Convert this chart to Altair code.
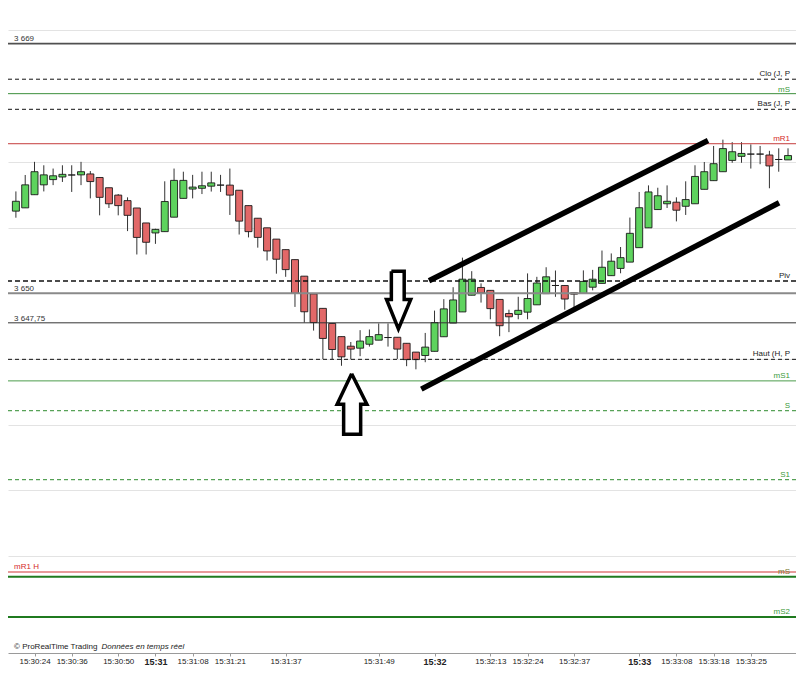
import altair as alt
import pandas as pd

# ---------------- data ----------------
opens = [3656.25, 3656.5, 3657.5, 3658.25, 3658.65, 3658.85, 3659.0, 3659.01, 3659.08, 3658.81,
         3658.03, 3657.47, 3657.05, 3656.49, 3655.35, 3654.59, 3654.69, 3655.79, 3657.22, 3657.93,
         3657.99, 3658.15, 3658.23, 3658.23, 3657.84, 3656.67, 3655.71, 3654.98, 3654.12, 3653.32,
         3652.56, 3651.3, 3649.95, 3648.85, 3647.7, 3646.7, 3645.97, 3645.82, 3646.12, 3646.43,
         3646.63, 3646.65, 3646.19, 3645.52, 3645.26, 3645.58, 3646.69, 3647.73, 3648.58, 3649.85,
         3650.44, 3650.22, 3649.53, 3648.46, 3648.39, 3648.56, 3649.12, 3649.97, 3650.59, 3650.59,
         3650.04, 3649.99, 3650.46, 3650.75, 3651.34, 3651.89, 3652.37, 3653.47, 3654.98, 3656.37,
         3656.81, 3656.93, 3656.62, 3656.81, 3657.91, 3658.57, 3659.25, 3660.11, 3660.42, 3660.59,
         3660.59, 3660.52, 3660.18, 3660.15]
highs = [3657.75, 3659.0, 3660.0, 3659.74, 3659.49, 3659.74, 3659.74, 3660.0, 3659.3, 3658.81,
         3658.03, 3657.55, 3657.3, 3656.49, 3655.35, 3654.91, 3658.52, 3659.49, 3659.25, 3659.01,
         3659.25, 3659.25, 3659.01, 3659.49, 3657.84, 3656.67, 3655.71, 3654.98, 3654.12, 3653.32,
         3652.56, 3651.3, 3649.95, 3648.85, 3647.7, 3646.7, 3646.29, 3647.19, 3647.24, 3647.7,
         3647.7, 3646.65, 3646.19, 3645.52, 3646.98, 3648.68, 3649.55, 3650.46, 3652.71, 3651.68,
         3650.75, 3650.22, 3649.53, 3648.75, 3649.73, 3651.51, 3651.25, 3651.98, 3651.73, 3650.59,
         3650.04, 3651.74, 3651.78, 3653.25, 3653.03, 3653.52, 3655.76, 3657.71, 3658.21, 3658.03,
         3658.21, 3657.3, 3658.52, 3659.74, 3659.99, 3661.21, 3661.69, 3661.5, 3661.5, 3661.33,
         3661.21, 3660.84, 3661.03, 3661.03]
lows = [3655.75, 3656.5, 3657.5, 3657.75, 3658.23, 3658.47, 3657.71, 3658.23, 3657.22, 3655.93,
        3656.49, 3655.93, 3654.73, 3652.95, 3652.95, 3653.76, 3654.69, 3655.79, 3657.22, 3657.22,
        3657.55, 3657.74, 3657.71, 3655.96, 3654.47, 3654.25, 3653.47, 3652.49, 3651.49, 3651.25,
        3648.96, 3647.77, 3647.16, 3644.99, 3644.99, 3644.48, 3644.97, 3645.21, 3645.94, 3646.43,
        3645.94, 3645.0, 3644.45, 3644.21, 3644.75, 3645.58, 3646.69, 3647.73, 3648.58, 3649.85,
        3649.29, 3648.02, 3646.73, 3647.04, 3648.02, 3648.02, 3649.12, 3649.97, 3649.73, 3648.75,
        3648.87, 3649.99, 3650.22, 3650.75, 3651.34, 3651.52, 3652.37, 3653.47, 3654.98, 3656.37,
        3656.49, 3655.47, 3655.96, 3656.81, 3657.91, 3658.57, 3659.25, 3659.93, 3659.93, 3659.49,
        3659.82, 3657.99, 3659.25, 3660.15]
closes = [3657.0, 3658.25, 3659.25, 3659.01, 3658.94, 3659.05, 3659.0, 3659.25, 3658.5, 3657.3,
          3656.81, 3656.67, 3655.93, 3654.25, 3653.88, 3654.86, 3656.98, 3658.59, 3658.59, 3658.08,
          3658.18, 3658.4, 3658.23, 3657.47, 3655.49, 3654.69, 3654.25, 3653.22, 3652.59, 3651.8,
          3650.0, 3648.59, 3647.77, 3646.56, 3645.72, 3645.16, 3645.75, 3646.36, 3646.7, 3646.85,
          3646.63, 3645.75, 3644.95, 3644.95, 3645.9, 3647.77, 3648.81, 3649.49, 3651.07, 3651.07,
          3650.02, 3648.83, 3647.53, 3648.21, 3648.7, 3649.6, 3650.78, 3651.25, 3650.59, 3649.56,
          3649.93, 3650.9, 3651.07, 3651.98, 3652.44, 3652.71, 3654.56, 3656.51, 3657.71, 3657.42,
          3657.0, 3656.32, 3657.13, 3658.89, 3659.25, 3659.86, 3661.01, 3660.77, 3660.64, 3660.59,
          3660.59, 3659.69, 3660.18, 3660.48]

tick_idx = [2, 6, 11, 15, 19, 23, 29, 39, 45, 51, 55, 60, 67, 71, 75, 79]
tick_labels = ["15:30:24", "15:30:36", "15:30:50", "15:31", "15:31:08", "15:31:21", "15:31:37",
               "15:31:49", "15:32", "15:32:13", "15:32:24", "15:32:37", "15:33", "15:33:08",
               "15:33:18", "15:33:25"]
bold_ticks = [15, 45, 67]

grid_prices = [3630, 3635, 3640, 3645, 3650, 3655, 3660, 3670]

level_names = ["p3669", "clo", "ms_top", "bas", "mr1", "piv", "p3650", "p3647", "haut",
               "ms1", "s", "s1", "mr1h", "green_h", "ms2"]
level_prices = [3669.0, 3666.29, 3665.19, 3664.0, 3661.38, 3650.93, 3650.0, 3647.75, 3644.97,
                3643.33, 3641.06, 3635.81, 3628.78, 3628.43, 3625.36]

# texts as far as the reference shows them
label_texts = ["3 669", "Clo (J, P", "mS", "Bas (J, P", "mR1", "Piv",
               "3 650", "3 647,75", "Haut (H, P", "mS1", "S", "S1", "mR1 H",
               "mS", "mS2"]
label_side = ["left", "right", "right", "right", "right", "right", "left", "left", "right",
              "right", "right", "right", "left", "right", "right"]
label_y = [3669.36, 3666.65, 3665.48, 3664.38, 3661.74, 3651.34, 3650.31, 3648.04, 3645.41,
           3643.72, 3641.45, 3636.18, 3629.2, 3628.78, 3625.77]
left_x = -0.2
right_x = 83.22

trend_ids = ["upper", "upper", "lower", "lower"]
trend_x = [44.41, 74.40, 43.58, 82.04]
trend_y = [3650.95, 3661.62, 3642.70, 3656.89]

arrow_ids = ["down"] * 8 + ["up"] * 8
arrow_x = [40.36, 41.74, 41.74, 42.44, 41.12, 39.84, 40.36, 40.36,
           36.09, 37.73, 37.06, 37.06, 35.23, 35.23, 34.53, 36.09]
arrow_y = [3651.68, 3651.68, 3649.53, 3649.53, 3647.29, 3649.53, 3649.53, 3651.68,
           3643.87, 3641.55, 3641.55, 3639.27, 3639.27, 3641.55, 3641.55, 3643.87]

credit_texts = ["© ProRealTime Trading", "Données en temps réel"]
credit_x = [-0.2, 9.2]
credit_y = [3622.75, 3622.75]

# ---------------- styles ----------------
FONT = "Liberation Sans"
GREEN_BODY = "#5ed35e"
RED_BODY = "#e26868"

level_style = {
    "p3669": dict(color="#505050", strokeWidth=1.6),
    "clo": dict(color="#111111", strokeWidth=1, strokeDash=[4, 3]),
    "ms_top": dict(color="#3c8f3c", strokeWidth=1),
    "bas": dict(color="#111111", strokeWidth=1, strokeDash=[4, 3]),
    "mr1": dict(color="#c43c3c", strokeWidth=1),
    "piv": dict(color="#111111", strokeWidth=1.6, strokeDash=[5, 3]),
    "p3650": dict(color="#8a8a8a", strokeWidth=2),
    "p3647": dict(color="#333333", strokeWidth=1),
    "haut": dict(color="#111111", strokeWidth=1, strokeDash=[4, 3]),
    "ms1": dict(color="#4c9c4c", strokeWidth=1),
    "s": dict(color="#2e8b2e", strokeWidth=1, strokeDash=[4, 3]),
    "s1": dict(color="#2e8b2e", strokeWidth=1, strokeDash=[4, 3]),
    "mr1h": dict(color="#e79a9a", strokeWidth=2),
    "green_h": dict(color="#1f7a1f", strokeWidth=2),
    "ms2": dict(color="#1f7a1f", strokeWidth=2),
}
label_color = {
    "p3669": "#333333", "clo": "#222222", "ms_top": "#3a9a3a", "bas": "#222222",
    "mr1": "#d42a2a", "piv": "#222222", "p3650": "#333333", "p3647": "#333333",
    "haut": "#222222", "ms1": "#3a9a3a", "s": "#3a9a3a", "s1": "#3a9a3a",
    "mr1h": "#d42a2a", "green_h": "#7a7a30", "ms2": "#3a9a3a",
}

# ---------------- scales & axes ----------------
xs = alt.Scale(domain=[-0.312, 83.32], nice=False, zero=False)
ys = alt.Scale(domain=[3622.62, 3671.71], nice=False, zero=False)

label_expr = ("[" + ",".join(f"'{s}'" for s in tick_labels) + "][indexof(["
              + ",".join(str(v) for v in tick_idx) + "], datum.value)]")
bold_test = "indexof([" + ",".join(str(v) for v in bold_ticks) + "], datum.value) >= 0"

x_axis = alt.Axis(values=tick_idx, labelExpr=label_expr, grid=False, title=None,
                  domainColor="#9a9a9a", tickColor="#9a9a9a", tickSize=3, labelPadding=1,
                  labelFont=FONT, labelColor="#222222", labelFlush=False, labelOverlap=False,
                  labelFontSize=alt.ExprRef(expr=f"{bold_test} ? 9 : 8"),
                  labelFontWeight=alt.ExprRef(expr=f"{bold_test} ? 'bold' : 'normal'"))
y_axis = alt.Axis(values=grid_prices, labels=False, ticks=False, domain=False, grid=True,
                  gridColor="#e3e3e3", gridWidth=1, title=None)


def X(field):
    return alt.X(field, type="quantitative", scale=xs, axis=x_axis)


def Y(field):
    return alt.Y(field, type="quantitative", scale=ys, axis=y_axis)


# ---------------- layers ----------------
candles = pd.DataFrame({"idx": list(range(len(opens))), "open": opens, "high": highs,
                        "low": lows, "close": closes})

wicks = alt.Chart(candles).mark_rule(color="#333333", strokeWidth=1).encode(
    x=X("idx"), y=Y("low"), y2="high")

bodies = alt.Chart(candles).mark_bar(size=7, stroke="#1a1a1a", strokeWidth=0.9).encode(
    x=X("idx"), y=Y("open"), y2="close",
    color=alt.condition("datum.close >= datum.open", alt.value(GREEN_BODY), alt.value(RED_BODY)))

level_layers = []
for name, price in zip(level_names, level_prices):
    df = pd.DataFrame({"price": [price]})
    level_layers.append(alt.Chart(df).mark_rule(**level_style[name]).encode(y=Y("price")))

trend_df = pd.DataFrame({"id": trend_ids, "x": trend_x, "y": trend_y,
                         "o": list(range(len(trend_x)))})
trend = alt.Chart(trend_df).mark_line(color="black", strokeWidth=5.5, strokeCap="butt").encode(
    x=X("x"), y=Y("y"), detail="id:N", order="o:Q")

arrow_df = pd.DataFrame({"id": arrow_ids, "x": arrow_x, "y": arrow_y,
                         "o": list(range(len(arrow_x)))})
arrows = alt.Chart(arrow_df).mark_line(stroke="black", fill="white", strokeWidth=3.5,
                                       strokeJoin="miter").encode(
    x=X("x"), y=Y("y"), detail="id:N", order="o:Q")

label_layers = []
for name, txt, side, ly in zip(level_names, label_texts, label_side, label_y):
    lx = left_x if side == "left" else right_x
    df = pd.DataFrame({"t": [txt], "x": [lx], "y": [ly]})
    label_layers.append(alt.Chart(df).mark_text(
        align=side, baseline="middle", font=FONT, fontSize=8, color=label_color[name]
    ).encode(x=X("x"), y=Y("y"), text="t:N"))

credit_df1 = pd.DataFrame({"t": [credit_texts[0]], "x": [credit_x[0]], "y": [credit_y[0]]})
credit_df2 = pd.DataFrame({"t": [credit_texts[1]], "x": [credit_x[1]], "y": [credit_y[1]]})
credit1 = alt.Chart(credit_df1).mark_text(align="left", baseline="bottom", font=FONT,
                                          fontSize=8, color="#222222").encode(
    x=X("x"), y=Y("y"), text="t:N")
credit2 = alt.Chart(credit_df2).mark_text(align="left", baseline="bottom", font=FONT,
                                          fontSize=8, fontStyle="italic",
                                          color="#222222").encode(
    x=X("x"), y=Y("y"), text="t:N")

chart = alt.layer(wicks, bodies, *level_layers, trend, arrows, *label_layers,
                  credit1, credit2).properties(
    width=788, height=645,
    autosize=alt.AutoSizeParams(type="none"),
    padding={"left": 0, "top": 0, "right": 0, "bottom": 14},
    background="white",
).configure_view(stroke="transparent")

chart.save("out.html", embed_options={"renderer": "svg", "actions": False})
